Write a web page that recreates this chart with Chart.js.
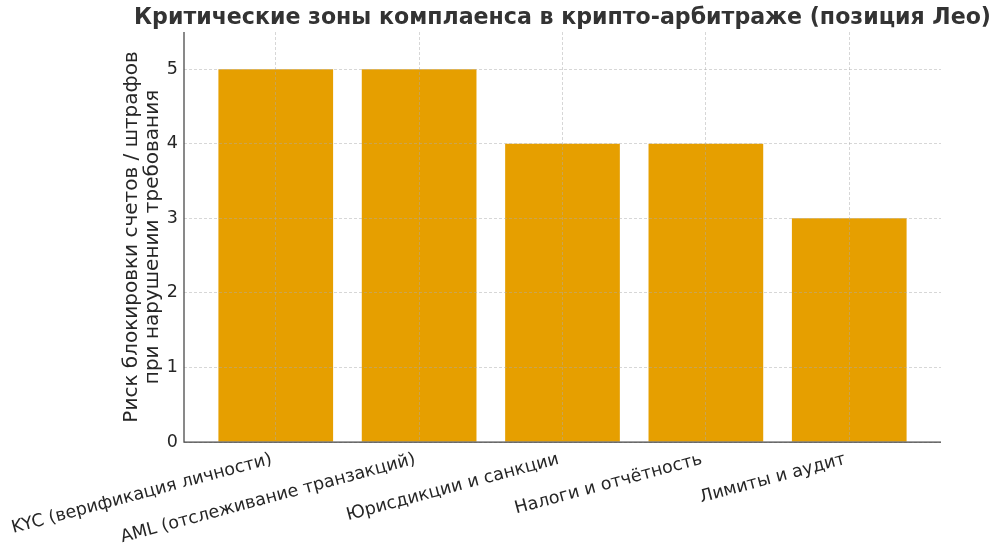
<!DOCTYPE html>
<html>
<head>
<meta charset="utf-8">
<script src="https://cdn.jsdelivr.net/npm/chart.js@4"></script>
<style>
	html, body { margin: 0; padding: 0; background: #fff; }
	#wrap { width: 1000px; height: 551px; }
</style>
</head>
<body>
<div id="wrap"><canvas id="chartRisk"></canvas></div>
<script>
'use strict'

const chartTitle = 'Критические зоны комплаенса в крипто-арбитраже (позиция Лео)';
const categories = [
	'KYC (верификация личности)',
	'AML (отслеживание транзакций)',
	'Юрисдикции и санкции',
	'Налоги и отчётность',
	'Лимиты и аудит'
];
const riskValues = [5, 5, 4, 4, 3];
const yTicks = [0, 1, 2, 3, 4, 5];

const textColor = '#262626';
const gridColor = 'rgba(170, 170, 170, 0.6)';
const axisColor = '#444444';
const barColor = '#E69F00';
const fontFamily = '"DejaVu Sans", sans-serif';

Chart.defaults.font.family = fontFamily;

// title centred over the plot area (wider than it), plus solid axis lines
const frame = {
	id: 'frame',
	afterDraw: (chart) => {
		const { ctx, chartArea } = chart;
		ctx.save();
		ctx.strokeStyle = axisColor;
		ctx.lineWidth = 1.25;
		ctx.setLineDash([]);
		ctx.beginPath();
		ctx.moveTo(chartArea.left, chartArea.top);
		ctx.lineTo(chartArea.left, chartArea.bottom);
		ctx.lineTo(chartArea.right, chartArea.bottom);
		ctx.stroke();

		ctx.fillStyle = '#333333';
		ctx.font = 'bold 22.1px ' + fontFamily;
		ctx.textAlign = 'center';
		ctx.textBaseline = 'middle';
		ctx.fillText(chartTitle, (chartArea.left + chartArea.right) / 2, 18);
		ctx.restore();
	},
};

let ctx = document.getElementById('chartRisk');

// linear x axis so the margins around the bars match the original
let chartRisk = new Chart(ctx, {
	type: 'bar',
	data: {
		datasets: [{
			data: riskValues.map((v, i) => ({ x: i, y: v })),
			backgroundColor: barColor,
			borderWidth: 0,
			barPercentage: 0.8,
			categoryPercentage: 1,
		}],
	},
	options: {
		responsive: true,
		maintainAspectRatio: false,
		animation: false,
		layout: {
			padding: { left: 121, right: 59, top: 32, bottom: 0 },
		},
		plugins: {
			legend: { display: false },
			tooltip: { enabled: false },
			title: { display: false },
		},
		scales: {
			x: {
				type: 'linear',
				offset: false,
				min: -0.64,
				max: 4.64,
				afterBuildTicks: (scale) => {
					scale.ticks = categories.map((c, i) => ({ value: i }));
				},
				afterFit: (scale) => {
					scale.height = 109;
					scale.paddingLeft = 0;
					scale.paddingRight = 0;
				},
				ticks: {
					color: textColor,
					font: { size: 17.5 },
					minRotation: 15,
					maxRotation: 15,
					autoSkip: false,
					padding: 7,
					labelOffset: -4,
					callback: (value) => categories[value],
				},
				grid: {
					offset: false,
					color: gridColor,
					lineWidth: 0.8,
					tickLength: 0,
					z: 1,
				},
				border: { display: false, dash: [3, 2] },
			},
			y: {
				min: 0,
				max: 5.5,
				afterBuildTicks: (scale) => {
					scale.ticks = yTicks.map((v) => ({ value: v }));
				},
				afterFit: (scale) => {
					scale.width = 63;
					scale.paddingTop = 0;
					scale.paddingBottom = 0;
				},
				ticks: {
					color: textColor,
					font: { size: 17.5 },
					padding: 6,
				},
				grid: {
					color: gridColor,
					lineWidth: 0.8,
					tickLength: 0,
					z: 1,
				},
				border: { display: false, dash: [3, 2] },
				title: {
					display: true,
					text: ['Риск блокировки счетов / штрафов', 'при нарушении требования'],
					color: textColor,
					font: { size: 20, lineHeight: 1.05 },
					padding: { top: 0, bottom: 0 },
				},
			},
		},
	},
	plugins: [frame],
});
</script>
</body>
</html>
